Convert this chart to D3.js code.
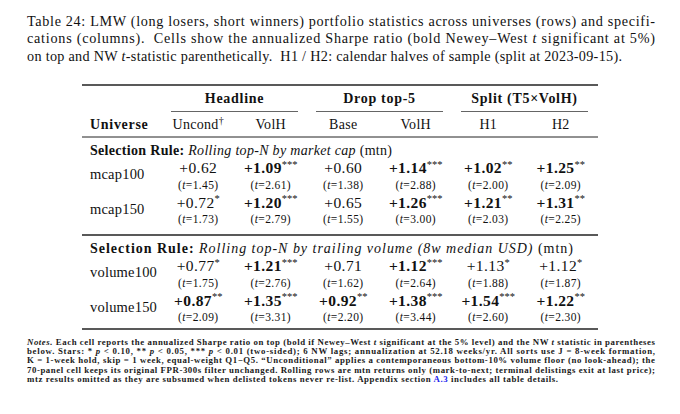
<!DOCTYPE html>
<html lang="en">
<head>
<meta charset="utf-8" />
<title>Table 24: LMW portfolio statistics</title>
<script src="https://d3js.org/d3.v7.min.js"></script>
<style>
  body{margin:0;background:#fff;}
  svg{display:block;font-family:"Liberation Serif","Times New Roman",serif;fill:#111;}
  .rule{stroke:#222;}
</style>
</head>
<body>
<svg id="tbl" width="680" height="414"></svg>
<script>
// -------------- DATA --------------
const captionLines=[
  'Table 24: LMW (long losers, short winners) portfolio statistics across universes (rows) and specifi-',
  'cations (columns).  Cells show the annualized Sharpe ratio (bold Newey–West |t| significant at 5%)',
  'on top and NW |t|-statistic parenthetically.  H1 / H2: calendar halves of sample (split at 2023-09-15).'
];
const groups=['Headline','Drop top-5','Split (T5×VolH)'];
const groupSpan=[[0,1],[2,3],[4,5]];
const columns=['Uncond','VolH','Base','VolH','H1','H2'];
const panelTitles=['Rolling top-N by market cap','Rolling top-N by trailing volume (8w median USD)'];
const universes=[['mcap100','mcap150'],['volume100','volume150']];
const sharpe=[
  [[0.62,1.09,0.60,1.14,1.02,1.25],[0.72,1.20,0.65,1.26,1.21,1.31]],
  [[0.77,1.21,0.71,1.12,1.13,1.12],[0.87,1.35,0.92,1.38,1.54,1.22]]
];
const tstat=[
  [[1.45,2.61,1.38,2.88,2.00,2.09],[1.73,2.79,1.55,3.00,2.03,2.25]],
  [[1.75,2.76,1.62,2.64,1.88,1.87],[2.09,3.31,2.20,3.44,2.60,2.30]]
];
const noteLines=[
  '|Notes.| Each cell reports the annualized Sharpe ratio on top (bold if Newey–West |t| significant at the 5% level) and the NW |t| statistic in parentheses',
  'below. Stars: * |p| < 0.10, ** |p| < 0.05, *** |p| < 0.01 (two-sided); 6 NW lags; annualization at 52.18 weeks/yr. All sorts use J = 8-week formation,',
  'K = 1-week hold, skip = 1 week, equal-weight Q1−Q5. “Unconditional” applies a contemporaneous bottom-10% volume floor (no look-ahead); the',
  '70-panel cell keeps its original FPR-300s filter unchanged. Rolling rows are mtn returns only (mark-to-next; terminal delistings exit at last price);',
  'mtz results omitted as they are subsumed when delisted tokens never re-list. Appendix section #A.3# includes all table details.'
];

// -------------- LAYOUT --------------
const L=27,R=655;
const tblL=82,tblR=598;
const x=d3.scaleBand().domain(d3.range(columns.length)).range([162,597]);
const cx=i=>x(i)+x.bandwidth()/2;
const panelTop=[137,235];
const svg=d3.select('#tbl');

// text with |italic| and #link# markers
function rich(sel,str){
  str.split(/(\|[^|]*\||#[^#]*#)/).filter(s=>s.length).forEach(s=>{
    if(s[0]==='|') sel.append('tspan').attr('font-style','italic').text(s.slice(1,-1));
    else if(s[0]==='#') sel.append('tspan').attr('fill','#2222ee').text(s.slice(1,-1));
    else sel.append('tspan').text(s);
  });
  return sel;
}
function stars(t){return t>=2.576?'***':t>=1.96?'**':t>=1.645?'*':'';}

// -------------- CAPTION --------------
captionLines.forEach((s,i)=>{
  const t=svg.append('text').attr('x',L).attr('y',25.5+i*17.5).attr('font-size',14.2)
    .attr('lengthAdjust','spacing').attr('textLength',i<2?R-L:595).attr('xml:space','preserve');
  rich(t,s);
});

// -------------- RULES & HEADERS --------------
const hline=(y,x1,x2,w)=>svg.append('line').attr('class','rule')
  .attr('x1',x1).attr('x2',x2).attr('y1',y).attr('y2',y).attr('stroke-width',w);
hline(85,tblL,tblR,1.6);

groups.forEach((g,i)=>{
  const [a,b]=groupSpan[i];
  const mid=(cx(a)+cx(b))/2;
  svg.append('text').attr('x',mid).attr('y',103).attr('text-anchor','middle')
    .attr('font-size',14).attr('font-weight','bold').attr('letter-spacing',0.7).text(g);
  hline(111.5,x(a)+9,x(b)+x.bandwidth()-9,0.7);
});

svg.append('text').attr('x',90).attr('y',129).attr('font-size',14).attr('font-weight','bold')
  .attr('letter-spacing',0.7).text('Universe');
columns.forEach((c,i)=>{
  const t=svg.append('text').attr('x',cx(i)).attr('y',129).attr('text-anchor','middle')
    .attr('font-size',14).attr('letter-spacing',0.3);
  t.append('tspan').text(c);
  if(i===0) t.append('tspan').attr('dy',-5).attr('font-size',10).text('†');
});
hline(137,tblL,tblR,1);

// -------------- PANELS --------------
panelTitles.forEach((title,p)=>{
  const y0=panelTop[p];
  if(p>0) hline(y0,tblL,tblR,1.3);
  const st=svg.append('text').attr('x',90).attr('y',y0+18).attr('font-size',14)
    .attr('lengthAdjust','spacing').attr('textLength',p?483:302).attr('xml:space','preserve');
  st.append('tspan').attr('font-weight','bold').text('Selection Rule: ');
  st.append('tspan').attr('font-style','italic').text(title);
  st.append('tspan').text(' (mtn)');

  universes[p].forEach((u,r)=>{
    const yv=y0+36+r*34.5;
    svg.append('text').attr('x',90).attr('y',yv+6).attr('font-size',14.5).attr('letter-spacing',0.2).text(u);
    sharpe[p][r].forEach((v,c)=>{
      const t=tstat[p][r][c];
      const tv=svg.append('text').attr('x',cx(c)).attr('y',yv).attr('text-anchor','middle')
        .attr('font-size',15.5).attr('letter-spacing',0.4).attr('font-weight',t>=1.96?'bold':'normal');
      tv.append('tspan').text('+'+v.toFixed(2));
      const s=stars(t);
      if(s) tv.append('tspan').attr('dy',-5.5).attr('font-size',10.5).attr('letter-spacing',0)
        .attr('font-weight','normal').text(s);
      const tt=svg.append('text').attr('x',cx(c)).attr('y',yv+15.5).attr('text-anchor','middle')
        .attr('font-size',11.5).attr('letter-spacing',0.4);
      tt.append('tspan').text('(');
      tt.append('tspan').attr('font-style','italic').text('t');
      tt.append('tspan').text('='+t.toFixed(2)+')');
    });
  });
});
hline(329,tblL,tblR,1.6);

// -------------- NOTES --------------
noteLines.forEach((s,i)=>{
  const t=svg.append('text').attr('x',L).attr('y',344.5+i*9.4).attr('font-size',8.8)
    .attr('font-weight','bold').attr('fill','#1a1a1a').attr('xml:space','preserve');
  if(i<4) t.attr('lengthAdjust','spacing').attr('textLength',R-L);
  else t.attr('lengthAdjust','spacing').attr('textLength',531);
  rich(t,s);
});
</script>
</body>
</html>
